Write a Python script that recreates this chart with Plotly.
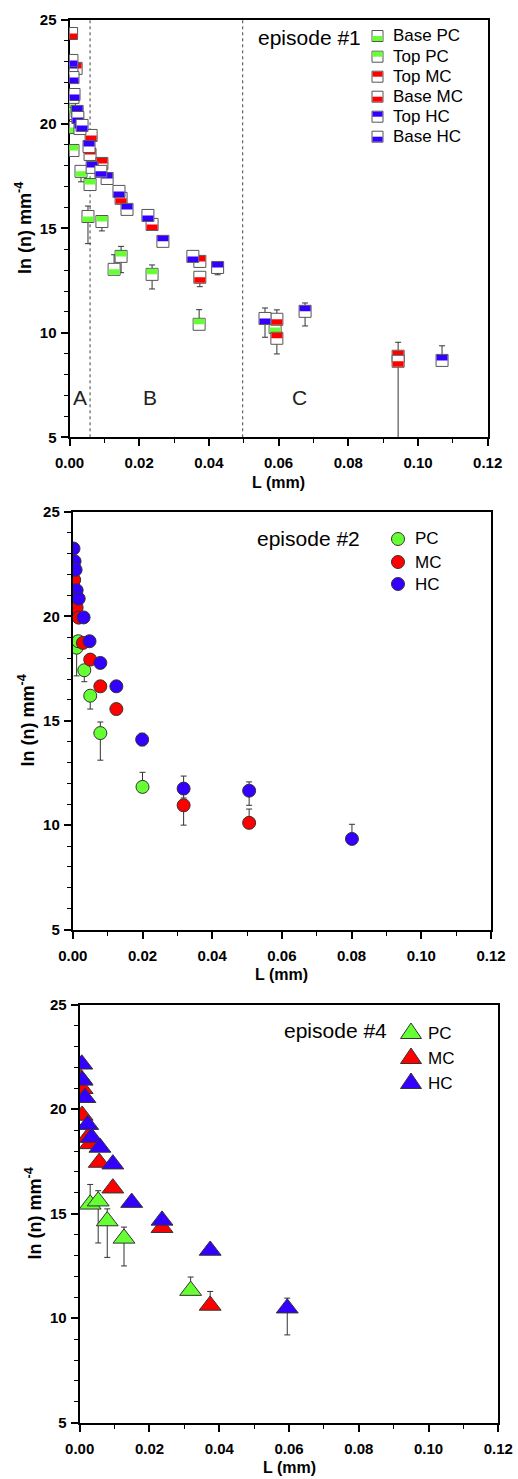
import plotly.graph_objects as go

W, H = 518, 1479
FONT = "Liberation Sans"
GREEN, RED, BLUE = "#66ff33", "#ff0000", "#3300ff"
EDGE = "#333333"

# ---------------- tick labels ----------------
x_tickvals = [0.00, 0.02, 0.04, 0.06, 0.08, 0.10, 0.12]
x_ticktext = ["0.00", "0.02", "0.04", "0.06", "0.08", "0.10", "0.12"]
y_tickvals = [5, 10, 15, 20, 25]
y_ticktext = ["5", "10", "15", "20", "25"]

# ---------------- episode #1 (half-filled squares) ----------------
ep1_base_pc_L = [0.0000, 0.0001, 0.0033, 0.0053, 0.0128, 0.0590]
ep1_base_pc_y = [20.93, 19.83, 17.73, 15.57, 13.04, 10.26]
ep1_base_pc_up = [0.2, 0.2, 0.2, 0.5, 0.7, 0.2]
ep1_base_pc_dn = [0.2, 0.2, 0.5, 1.3, 0.2, 0.2]

ep1_top_pc_L = [0.0001, 0.0010, 0.0059, 0.0093, 0.0148, 0.0237, 0.0372]
ep1_top_pc_y = [20.50, 18.73, 17.10, 15.33, 13.66, 12.80, 10.41]
ep1_top_pc_up = [0.2, 0.2, 0.2, 0.2, 0.48, 0.45, 0.70]
ep1_top_pc_dn = [0.2, 0.2, 0.2, 0.45, 0.78, 0.70, 0.2]

ep1_top_mc_L = [0.0019, 0.0059, 0.0093, 0.0374, 0.0595, 0.0943]
ep1_top_mc_y = [22.66, 18.54, 18.11, 13.42, 9.74, 8.88]
ep1_top_mc_up = [0.2, 0.2, 0.2, 0.2, 0.2, 0.67]
ep1_top_mc_dn = [0.2, 0.2, 0.2, 0.2, 0.75, 0.2]

ep1_base_mc_L = [0.0006, 0.0062, 0.0148, 0.0237, 0.0374, 0.0595, 0.0943]
ep1_base_mc_y = [24.33, 19.45, 16.44, 15.19, 12.66, 10.65, 8.64]
ep1_base_mc_up = [0.2, 0.2, 0.2, 0.2, 0.2, 0.45, 0.2]
ep1_base_mc_dn = [0.2, 0.2, 0.2, 0.2, 0.45, 0.2, 3.7]

ep1_top_hc_L = [0.0007, 0.0010, 0.0022, 0.0030, 0.0056, 0.0065, 0.0108, 0.0165, 0.0268, 0.0425, 0.0676, 0.1069]
ep1_top_hc_y = [22.66, 21.27, 20.60, 19.78, 18.92, 17.92, 17.39, 15.91, 14.38, 13.13, 11.03, 8.68]
ep1_top_hc_up = [0.2, 0.2, 0.2, 0.2, 0.2, 0.2, 0.2, 0.2, 0.2, 0.2, 0.40, 0.70]
ep1_top_hc_dn = [0.2, 0.2, 0.2, 0.2, 0.2, 0.2, 0.2, 0.2, 0.2, 0.35, 0.70, 0.2]

ep1_base_hc_L = [0.0007, 0.0010, 0.0013, 0.0024, 0.0036, 0.0090, 0.0142, 0.0225, 0.0354, 0.0561]
ep1_base_hc_y = [23.04, 22.22, 21.41, 20.31, 19.93, 17.73, 16.77, 15.62, 13.66, 10.69]
ep1_base_hc_up = [0.2, 0.2, 0.2, 0.2, 0.2, 0.2, 0.2, 0.2, 0.2, 0.5]
ep1_base_hc_dn = [0.2, 0.2, 0.2, 0.2, 0.2, 0.2, 0.2, 0.2, 0.2, 0.9]

ep1_region_bounds = [0.0059, 0.0497]
ep1_region_labels = ["A", "B", "C"]
ep1_region_label_L = [0.003, 0.023, 0.066]
ep1_region_label_y = [6.9, 6.9, 6.9]

# ---------------- episode #2 (circles) ----------------
ep2_pc_L = [0.0000, 0.0001, 0.0011, 0.0016, 0.0033, 0.0050, 0.0079, 0.0200]
ep2_pc_y = [21.60, 20.67, 18.50, 18.81, 17.42, 16.20, 14.41, 11.83]
ep2_pc_up = [0, 0, 0.55, 0, 0, 0, 0.53, 0.70]
ep2_pc_dn = [0, 0, 1.35, 0, 0.55, 0.64, 1.30, 0]

ep2_mc_L = [0.0002, 0.0002, 0.0004, 0.0011, 0.0017, 0.0029, 0.0050, 0.0079, 0.0125, 0.0318, 0.0506]
ep2_mc_y = [22.40, 21.20, 21.75, 20.42, 19.94, 18.73, 17.93, 16.65, 15.56, 10.95, 10.11]
ep2_mc_up = [0, 0, 0, 0, 0, 0, 0, 0, 0, 0, 0.66]
ep2_mc_dn = [0, 0, 0, 0, 0, 0, 0, 0, 0, 0.95, 0]

ep2_hc_L = [0.0002, 0.0005, 0.0008, 0.0011, 0.0017, 0.0031, 0.0048, 0.0079, 0.0125, 0.0199, 0.0318, 0.0506, 0.0801]
ep2_hc_y = [23.25, 22.64, 22.23, 21.25, 20.85, 19.95, 18.81, 17.77, 16.65, 14.10, 11.75, 11.65, 9.34]
ep2_hc_up = [0, 0, 0, 0, 0, 0, 0, 0, 0, 0.30, 0.60, 0.42, 0.70]
ep2_hc_dn = [0, 0, 0, 0, 0, 0, 0, 0, 0, 0.30, 0.45, 0.70, 0]

# ---------------- episode #4 (triangles) ----------------
ep4_pc_L = [0.0030, 0.0053, 0.0079, 0.0127, 0.0318]
ep4_pc_y = [15.45, 15.60, 14.65, 13.82, 11.32]
ep4_pc_up = [0.95, 0.50, 0.58, 0.54, 0.65]
ep4_pc_dn = [0, 2.00, 1.74, 1.32, 0]

ep4_mc_L = [0.0004, 0.0007, 0.0007, 0.0023, 0.0030, 0.0056, 0.0095, 0.0236, 0.0374]
ep4_mc_y = [21.46, 20.98, 19.70, 18.65, 18.34, 17.45, 16.22, 14.33, 10.61]
ep4_mc_up = [0, 0, 0, 0, 0, 0, 0, 0, 0.67]
ep4_mc_dn = [0, 0, 0, 0, 0, 0, 0, 0, 0]

ep4_hc_L = [0.0006, 0.0007, 0.0015, 0.0023, 0.0034, 0.0058, 0.0095, 0.0149, 0.0236, 0.0374, 0.0595]
ep4_hc_y = [22.15, 21.38, 20.55, 19.26, 18.65, 18.17, 17.37, 15.53, 14.68, 13.24, 10.48]
ep4_hc_up = [0, 0, 0, 0, 0, 0, 0, 0, 0, 0, 0.48]
ep4_hc_dn = [0, 0, 0, 0, 0, 0, 0, 0, 0, 0, 1.28]

ep1_series = [
    ("Base PC", ep1_base_pc_L, ep1_base_pc_y, ep1_base_pc_up, ep1_base_pc_dn, GREEN, False),
    ("Top PC", ep1_top_pc_L, ep1_top_pc_y, ep1_top_pc_up, ep1_top_pc_dn, GREEN, True),
    ("Top MC", ep1_top_mc_L, ep1_top_mc_y, ep1_top_mc_up, ep1_top_mc_dn, RED, True),
    ("Base MC", ep1_base_mc_L, ep1_base_mc_y, ep1_base_mc_up, ep1_base_mc_dn, RED, False),
    ("Top HC", ep1_top_hc_L, ep1_top_hc_y, ep1_top_hc_up, ep1_top_hc_dn, BLUE, True),
    ("Base HC", ep1_base_hc_L, ep1_base_hc_y, ep1_base_hc_up, ep1_base_hc_dn, BLUE, False),
]
ep2_series = [
    ("PC", ep2_pc_L, ep2_pc_y, ep2_pc_up, ep2_pc_dn, GREEN),
    ("MC", ep2_mc_L, ep2_mc_y, ep2_mc_up, ep2_mc_dn, RED),
    ("HC", ep2_hc_L, ep2_hc_y, ep2_hc_up, ep2_hc_dn, BLUE),
]
ep4_series = [
    ("PC", ep4_pc_L, ep4_pc_y, ep4_pc_up, ep4_pc_dn, GREEN),
    ("MC", ep4_mc_L, ep4_mc_y, ep4_mc_up, ep4_mc_dn, RED),
    ("HC", ep4_hc_L, ep4_hc_y, ep4_hc_up, ep4_hc_dn, BLUE),
]

# ---------------- layout geometry (pixels) ----------------
panels = [  # left, right, top, bottom
    (69.5, 487.7, 19.5, 437.3),
    (72.8, 491.0, 512.0, 929.5),
    (79.7, 498.3, 1004.7, 1422.7),
]

def fx(px):
    return px / W

def fy(py):
    return 1 - py / H

fig = go.Figure()
shapes = []
annotations = []

def err(up, dn):
    return dict(type="data", symmetric=False, array=up, arrayminus=dn,
                color="#333333", thickness=1, width=3)

# episode 1: error bars via traces, squares via data-anchored pixel shapes
for name, L, y, up, dn, col, top in ep1_series:
    fig.add_trace(go.Scatter(x=L, y=y, mode="markers", name=name,
                             marker=dict(size=2, opacity=0),
                             error_y=err(up, dn), xaxis="x", yaxis="y",
                             showlegend=False, hoverinfo="skip"))
    for xv, yv in zip(L, y):
        shapes.append(dict(type="rect", xref="x", yref="y", xsizemode="pixel", ysizemode="pixel",
                           xanchor=xv, yanchor=yv, x0=-6, x1=6, y0=-6, y1=6,
                           fillcolor="white", line=dict(color="#555555", width=1), layer="above"))
        y0, y1 = (0, 5.5) if top else (-5.5, 0)
        shapes.append(dict(type="rect", xref="x", yref="y", xsizemode="pixel", ysizemode="pixel",
                           xanchor=xv, yanchor=yv, x0=-5.5, x1=5.5, y0=y0, y1=y1,
                           fillcolor=col, line=dict(width=0), layer="above"))

for name, L, y, up, dn, col in ep2_series:
    fig.add_trace(go.Scatter(x=L, y=y, mode="markers", name=name,
                             marker=dict(symbol="circle", size=13, color=col, line=dict(color=EDGE, width=1)),
                             error_y=err(up, dn), xaxis="x2", yaxis="y2", showlegend=False))

for name, L, y, up, dn, col in ep4_series:
    fig.add_trace(go.Scatter(x=L, y=y, mode="markers", name=name,
                             marker=dict(symbol="triangle-up", size=19, color=col, line=dict(color=EDGE, width=1)),
                             error_y=err(up, dn), xaxis="x3", yaxis="y3", showlegend=False))

# region boundaries and labels (episode 1)
for b in ep1_region_bounds:
    shapes.append(dict(type="line", xref="x", yref="y domain", x0=b, x1=b, y0=0, y1=1,
                       line=dict(color="#444444", width=1, dash="dot"), layer="below"))
for t, lx, ly in zip(ep1_region_labels, ep1_region_label_L, ep1_region_label_y):
    annotations.append(dict(text=t, x=lx, y=ly, xref="x", yref="y", showarrow=False,
                            font=dict(family=FONT, size=21, color="#222222")))

# ---------------- custom legends ----------------
def label(text, px, py, size=17, anchor="left"):
    annotations.append(dict(text=text, x=fx(px), y=fy(py), xref="paper", yref="paper",
                            xanchor=anchor, yanchor="middle", showarrow=False,
                            font=dict(family=FONT, size=size, color="black")))

label("episode #1", 363, 37, size=21, anchor="right")
rows1 = [36, 56.7, 76.7, 96.7, 116.7, 136.7]
for (name, L, y, up, dn, col, top), ry in zip(ep1_series, rows1):
    ax, ay = fx(377.5), fy(ry)
    shapes.append(dict(type="rect", xref="paper", yref="paper", xsizemode="pixel", ysizemode="pixel",
                       xanchor=ax, yanchor=ay, x0=-5.5, x1=5.5, y0=-5.5, y1=5.5,
                       fillcolor="white", line=dict(color="#555555", width=1)))
    y0, y1 = (0, 5) if top else (-5, 0)
    shapes.append(dict(type="rect", xref="paper", yref="paper", xsizemode="pixel", ysizemode="pixel",
                       xanchor=ax, yanchor=ay, x0=-5, x1=5, y0=y0, y1=y1,
                       fillcolor=col, line=dict(width=0)))
    label(name, 391, ry)

label("episode #2", 362, 538, size=21, anchor="right")
rows2 = [539, 562, 584]
for (name, L, y, up, dn, col), ry in zip(ep2_series, rows2):
    shapes.append(dict(type="circle", xref="paper", yref="paper", xsizemode="pixel", ysizemode="pixel",
                       xanchor=fx(398), yanchor=fy(ry), x0=-6.5, x1=6.5, y0=-6.5, y1=6.5,
                       fillcolor=col, line=dict(color=EDGE, width=1)))
    label(name, 413, ry)

label("episode #4", 389, 1030, size=21, anchor="right")
rows4 = [1034, 1059, 1084]
for (name, L, y, up, dn, col), ry in zip(ep4_series, rows4):
    shapes.append(dict(type="path", xref="paper", yref="paper", xsizemode="pixel", ysizemode="pixel",
                       xanchor=fx(411), yanchor=fy(ry), path="M-10.5,-4.5 L10.5,-4.5 L0,11 Z",
                       fillcolor=col, line=dict(color=EDGE, width=1)))
    label(name, 426, ry - 1)

# ---------------- axes ----------------
tickfont = dict(family=FONT, size=15, color="black", weight="bold")
def xaxis(dom, anchor):
    return dict(domain=dom, anchor=anchor, range=[0, 0.12], tickvals=x_tickvals, ticktext=x_ticktext,
                showline=True, linewidth=2, linecolor="black", mirror=True, automargin=False,
                ticks="outside", ticklen=7, tickwidth=1.5, tickcolor="black",
                minor=dict(dtick=0.01, tick0=0, ticks="outside", ticklen=4, tickwidth=1, tickcolor="black"),
                showgrid=False, zeroline=False, tickfont=tickfont, ticklabelstandoff=4)

def yaxis(dom, anchor):
    return dict(domain=dom, anchor=anchor, range=[5, 25], tickvals=y_tickvals, ticktext=y_ticktext,
                showline=True, linewidth=2, linecolor="black", mirror=True, automargin=False,
                ticks="outside", ticklen=7, tickwidth=1.5, tickcolor="black",
                minor=dict(dtick=1, tick0=0, ticks="outside", ticklen=4, tickwidth=1, tickcolor="black"),
                showgrid=False, zeroline=False, tickfont=tickfont, ticklabelstandoff=1)

axes = {}
names = [("xaxis", "yaxis", "y", "x"), ("xaxis2", "yaxis2", "y2", "x2"), ("xaxis3", "yaxis3", "y3", "x3")]
for (l, r, t, b), (xn, yn, ya, xa) in zip(panels, names):
    axes[xn] = xaxis([fx(l), fx(r)], ya)
    axes[yn] = yaxis([fy(b), fy(t)], xa)
    annotations.append(dict(text="L (mm)", x=fx((l + r) / 2), y=fy(b + 45), xref="paper", yref="paper",
                            xanchor="center", yanchor="middle", showarrow=False,
                            font=dict(family=FONT, size=16, color="black", weight="bold")))
    annotations.append(dict(text="ln (n) mm<sup>-4</sup>", x=fx(l - 46), y=fy((t + b) / 2),
                            xref="paper", yref="paper", xanchor="center", yanchor="middle",
                            textangle=-90, showarrow=False,
                            font=dict(family=FONT, size=18, color="black", weight="bold")))

fig.update_layout(width=W, height=H, margin=dict(l=0, r=0, t=0, b=0, autoexpand=False),
                  paper_bgcolor="white", plot_bgcolor="white",
                  shapes=shapes, annotations=annotations, showlegend=False, **axes)

fig.write_html("out.html", config={"displayModeBar": False},
               post_script="document.body.style.margin='0';")
